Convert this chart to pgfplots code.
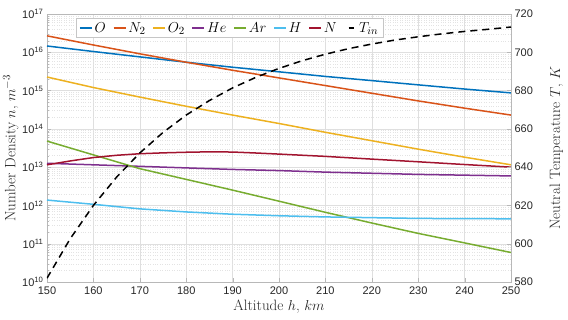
\documentclass[border=0pt]{standalone}
\usepackage{fontspec}
\usepackage{pgfplots}
\pgfplotsset{compat=1.18}
\newfontfamily\helv{Liberation Sans}
\definecolor{cO}{rgb}{0,0.447,0.741}
\definecolor{cN2}{rgb}{0.85,0.325,0.098}
\definecolor{cO2}{rgb}{0.929,0.694,0.125}
\definecolor{cHe}{rgb}{0.494,0.184,0.556}
\definecolor{cAr}{rgb}{0.466,0.674,0.188}
\definecolor{cH}{rgb}{0.301,0.745,0.933}
\definecolor{cN}{rgb}{0.635,0.078,0.184}
\definecolor{axgray}{gray}{0.72}
\definecolor{txtgray}{gray}{0.15}
\begin{document}
\begin{tikzpicture}
\pgfplotsset{
  every axis/.append style={
    scale only axis, width=464pt, height=268pt,
    xmin=150, xmax=250,
    axis line style={axgray},
    tick style={axgray},
    tick align=inside,
    major tick length=4pt, minor tick length=2pt,
    tick label style={font=\helv\fontsize{11}{11}\selectfont, text=txtgray},
    /pgf/number format/assume math mode=true,
    label style={font=\fontsize{15}{15}\selectfont, text=txtgray},
  }
}
\begin{axis}[
  name=main,
  ymode=log, ymin=1e10, ymax=1e17,
  xtick={150,160,...,250},
  ytick={1e10,1e11,1e12,1e13,1e14,1e15,1e16,1e17},
  yticklabels={10\textsuperscript{10},10\textsuperscript{11},10\textsuperscript{12},10\textsuperscript{13},10\textsuperscript{14},10\textsuperscript{15},10\textsuperscript{16},10\textsuperscript{17}},
  ytick pos=left, xtick pos=bottom,
  xticklabel style={yshift=-1pt},
  grid=major, yminorgrids=true,
  major grid style={gray!25, line width=0.4pt},
  minor grid style={gray!22, dotted, line width=0.4pt},
  xlabel={Altitude $h$, $km$},
  ylabel={Number Density $n$, $m^{-3}$},
  xlabel style={yshift=1pt},
  ylabel style={yshift=-3pt},
  legend columns=-1,
  legend style={at={(0.0625,0.985)}, anchor=north west, draw=gray!45, fill=white,
    font=\fontsize{15}{15}\selectfont,
    /tikz/every even column/.append style={column sep=5pt}},
  legend image post style={xscale=0.7},
]
\addplot[color=cO, line width=1.5pt] coordinates {(150,1.46e16)(160,1.047e16)(170,7.59e15)(180,5.50e15)(190,4.07e15)(200,3.09e15)(210,2.34e15)(220,1.82e15)(230,1.41e15)(240,1.096e15)(250,8.7e14)};
\addlegendentry{$O$}
\addplot[color=cN2, line width=1.5pt] coordinates {(150,2.69e16)(160,1.55e16)(170,9.12e15)(180,5.50e15)(190,3.39e15)(200,2.14e15)(210,1.35e15)(220,8.51e14)(230,5.37e14)(240,3.47e14)(250,2.29e14)};
\addlegendentry{$N_2$}
\addplot[color=cO2, line width=1.5pt] coordinates {(150,2.26e15)(160,1.20e15)(170,6.76e14)(180,3.89e14)(190,2.29e14)(200,1.38e14)(210,8.13e13)(220,4.90e13)(230,2.95e13)(240,1.82e13)(250,1.15e13)};
\addlegendentry{$O_2$}
\addplot[color=cHe, line width=1.5pt] coordinates {(150,1.26e13)(160,1.15e13)(170,1.05e13)(180,9.55e12)(190,8.71e12)(200,8.13e12)(210,7.41e12)(220,6.92e12)(230,6.46e12)(240,6.17e12)(250,5.89e12)};
\addlegendentry{$He$}
\addplot[color=cAr, line width=1.5pt] coordinates {(150,4.79e13)(160,2.09e13)(170,9.12e12)(180,4.79e12)(190,2.51e12)(200,1.29e12)(210,6.61e11)(220,3.47e11)(230,1.86e11)(240,1.05e11)(250,5.89e10)};
\addlegendentry{$Ar$}
\addplot[color=cH, line width=1.5pt] coordinates {(150,1.38e12)(160,1.07e12)(170,8.13e11)(180,6.76e11)(190,5.89e11)(200,5.37e11)(210,5.01e11)(220,4.79e11)(230,4.57e11)(240,4.52e11)(250,4.47e11)};
\addlegendentry{$H$}
\addplot[color=cN, line width=1.5pt] coordinates {(150,1.15e13)(155,1.45e13)(160,1.78e13)(165,2.04e13)(170,2.24e13)(175,2.36e13)(180,2.45e13)(185,2.51e13)(190,2.48e13)(195,2.34e13)(200,2.19e13)(210,1.91e13)(220,1.62e13)(230,1.38e13)(240,1.17e13)(250,1.00e13)};
\addlegendentry{$N$}
\addlegendimage{color=black, line width=1.5pt, dash pattern=on 5pt off 9pt, dash phase=-4pt}
\addlegendentry{$T_{in}$}
\end{axis}
\begin{axis}[
  ymin=580, ymax=720,
  axis y line*=right, axis x line=none,
  ytick={580,600,...,720},
  ylabel={Neutral Temperature $T$, $K$},
  ylabel style={yshift=-10pt},
]
\addplot[black, line width=1.5pt, dash pattern=on 7pt off 5pt] coordinates {(150,582.0)(155,602.6)(160,620.0)(165,634.8)(170,647.4)(175,658.1)(180,667.2)(185,674.8)(190,681.4)(195,686.9)(200,691.6)(205,695.6)(210,699.0)(215,701.9)(220,704.3)(225,706.4)(230,708.1)(235,709.6)(240,710.9)(245,712.0)(250,713.2)};
\end{axis}
\pgfresetboundingbox
\path ([xshift=-47pt,yshift=-37pt]main.south west) rectangle ([xshift=57pt,yshift=14pt]main.north east);
\end{tikzpicture}
\end{document}
